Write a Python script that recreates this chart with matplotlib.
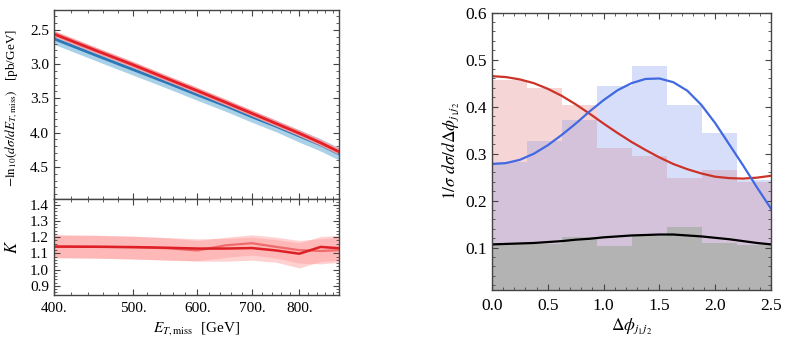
import numpy as np
import matplotlib
matplotlib.use("Agg")
import matplotlib.pyplot as plt
from matplotlib.ticker import FixedLocator, FuncFormatter, NullFormatter

plt.rcParams['font.family'] = ['Liberation Serif', 'DejaVu Serif']
plt.rcParams['mathtext.fontset'] = 'stix'

# ---- left panel data: E_T,miss spectrum ----
E = [400, 450, 500, 550, 600, 650, 700, 750, 800, 850, 895]
red_xsec = [2.56, 2.80, 3.01, 3.21, 3.39, 3.56, 3.72, 3.87, 4.01, 4.15, 4.28]
blue_xsec = [2.63, 2.87, 3.08, 3.27, 3.45, 3.61, 3.77, 3.91, 4.05, 4.18, 4.31]
blue_lo = [2.56, 2.80, 3.01, 3.20, 3.37, 3.53, 3.68, 3.82, 3.96, 4.09, 4.22]
blue_hi = [2.71, 2.95, 3.16, 3.35, 3.53, 3.69, 3.85, 3.99, 4.14, 4.27, 4.40]

# K factor
K_dark = [1.142, 1.141, 1.139, 1.135, 1.130, 1.130, 1.133, 1.118, 1.098, 1.140, 1.132]
K_light = [1.142, 1.141, 1.138, 1.132, 1.118, 1.150, 1.163, 1.140, 1.120, 1.115, 1.120]
bandA_hi = [1.212, 1.210, 1.205, 1.198, 1.190, 1.192, 1.200, 1.185, 1.165, 1.205, 1.210]
bandA_lo = [1.072, 1.070, 1.065, 1.058, 1.052, 1.052, 1.058, 1.045, 1.010, 1.050, 1.058]
bandB_hi = [1.215, 1.213, 1.207, 1.196, 1.180, 1.200, 1.215, 1.200, 1.180, 1.190, 1.200]
bandB_lo = [1.075, 1.072, 1.066, 1.060, 1.055, 1.075, 1.090, 1.070, 1.040, 1.035, 1.045]

# ---- right panel data: delta phi ----
bin_w = np.pi / 10
hist_red = [0.457, 0.439, 0.403, 0.313, 0.296, 0.248, 0.265, 0.240]
hist_blue = [0.282, 0.327, 0.372, 0.444, 0.486, 0.404, 0.343, 0.243]
hist_gray = [0.108, 0.108, 0.123, 0.104, 0.125, 0.145, 0.111, 0.106]

phi = np.arange(21) * 0.125
curve_red = [0.465, 0.463, 0.458, 0.450, 0.438, 0.423, 0.405, 0.385, 0.364, 0.344, 0.325,
             0.308, 0.292, 0.278, 0.267, 0.258, 0.251, 0.248, 0.247, 0.249, 0.253]
curve_blue = [0.278, 0.280, 0.287, 0.300, 0.318, 0.340, 0.364, 0.390, 0.414, 0.435, 0.450,
              0.459, 0.460, 0.452, 0.434, 0.404, 0.365, 0.320, 0.275, 0.228, 0.183]
curve_black = [0.107, 0.108, 0.109, 0.110, 0.112, 0.114, 0.117, 0.119, 0.122, 0.124, 0.126,
               0.127, 0.128, 0.128, 0.126, 0.124, 0.121, 0.118, 0.114, 0.110, 0.107]

frame = '#444444'


def style(ax):
    for s in ax.spines.values():
        s.set_color(frame)
        s.set_linewidth(1.0)
    ax.tick_params(which='both', direction='in', top=True, right=True, color=frame)
    ax.tick_params(which='major', length=4, width=0.8)
    ax.tick_params(which='minor', length=2, width=0.6)


fig = plt.figure(figsize=(7.89, 3.41), dpi=100)

# top left
ax1 = fig.add_axes([0.0684, 0.4164, 0.3612, 0.5543])
ax1.fill_between(E, blue_lo, blue_hi, color='#a9d1e8', lw=0)
ax1.plot(E, blue_xsec, color='#2b78b8', lw=2)
ax1.plot(E, red_xsec, color='#f4a0a0', lw=4, solid_capstyle='butt')
ax1.plot(E, red_xsec, color='#e3202a', lw=2)
ax1.set_xscale('log')
ax1.set_xlim(400, 895)
ax1.set_ylim(4.97, 2.21)
ax1.xaxis.set_major_locator(FixedLocator([400, 500, 600, 700, 800]))
ax1.xaxis.set_minor_locator(FixedLocator(np.arange(420, 895, 20)))
ax1.xaxis.set_major_formatter(NullFormatter())
ax1.xaxis.set_minor_formatter(NullFormatter())
ax1.yaxis.set_major_locator(FixedLocator([2.5, 3.0, 3.5, 4.0, 4.5]))
ax1.yaxis.set_minor_locator(FixedLocator(np.arange(2.3, 5.0, 0.1)))
ax1.yaxis.set_major_formatter(FuncFormatter(lambda v, p: f"{v:.1f}"))
ax1.tick_params(labelsize=11)
style(ax1)
ax1.set_ylabel(r"$-\mathrm{ln}_{10}(d\sigma/dE_{T,\mathrm{miss}})$   [pb/GeV]", fontsize=9.5)
ax1.yaxis.set_label_coords(-0.12, 0.48)

# bottom left
ax2 = fig.add_axes([0.0684, 0.1349, 0.3612, 0.2815])
ax2.fill_between(E, bandA_lo, bandA_hi, color='#ff9a9a', alpha=0.45, lw=0)
ax2.fill_between(E, bandB_lo, bandB_hi, color='#ff9a9a', alpha=0.45, lw=0)
ax2.plot(E, K_light, color='#ef6a6a', lw=1.6)
ax2.plot(E, K_dark, color='#dd1f26', lw=1.8)
ax2.set_xscale('log')
ax2.set_xlim(400, 895)
ax2.set_ylim(0.843, 1.436)
ax2.xaxis.set_major_locator(FixedLocator([400, 500, 600, 700, 800]))
ax2.xaxis.set_minor_locator(FixedLocator(np.arange(420, 895, 20)))
ax2.xaxis.set_major_formatter(FuncFormatter(lambda v, p: f"{v:.0f}."))
ax2.xaxis.set_minor_formatter(NullFormatter())
ax2.yaxis.set_major_locator(FixedLocator([0.9, 1.0, 1.1, 1.2, 1.3, 1.4]))
ax2.yaxis.set_minor_locator(FixedLocator(np.arange(0.86, 1.44, 0.02)))
ax2.yaxis.set_major_formatter(FuncFormatter(lambda v, p: f"{v:.1f}"))
ax2.tick_params(labelsize=11)
ax2.tick_params(axis='x', pad=5)
style(ax2)
ax2.set_ylabel(r"$K$", fontsize=12)
ax2.yaxis.set_label_coords(-0.115, 0.5)
ax2.set_xlabel(r"$E_{T,\mathrm{miss}}$  [GeV]", fontsize=11)

# right panel
ax3 = fig.add_axes([0.6236, 0.1496, 0.3536, 0.8132])
left = np.arange(len(hist_red)) * bin_w
ax3.bar(left, hist_red, width=bin_w, align='edge', color='#f5d5d5', lw=0)
ax3.bar(left, hist_blue, width=bin_w, align='edge', color='#d6defa', lw=0)
ax3.bar(left, np.minimum(hist_red, hist_blue), width=bin_w, align='edge', color='#d4c2da', lw=0)
ax3.bar(left, hist_gray, width=bin_w, align='edge', color='#b3b3b3', lw=0)
ax3.plot(phi, curve_red, color='#cc3328', lw=1.6)
ax3.plot(phi, curve_blue, color='#4169e1', lw=1.6)
ax3.plot(phi, curve_black, color='black', lw=1.6)
ax3.set_xlim(0, 2.5)
ax3.set_ylim(0.01, 0.6)
ax3.xaxis.set_major_locator(FixedLocator([0.0, 0.5, 1.0, 1.5, 2.0, 2.5]))
ax3.xaxis.set_minor_locator(FixedLocator(np.arange(0.1, 2.5, 0.1)))
ax3.xaxis.set_major_formatter(FuncFormatter(lambda v, p: f"{v:.1f}"))
ax3.yaxis.set_major_locator(FixedLocator([0.1, 0.2, 0.3, 0.4, 0.5, 0.6]))
ax3.yaxis.set_minor_locator(FixedLocator(np.arange(0.02, 0.6, 0.02)))
ax3.yaxis.set_major_formatter(FuncFormatter(lambda v, p: f"{v:.1f}"))
ax3.tick_params(labelsize=12.5)
ax3.tick_params(axis='x', pad=6)
style(ax3)
ax3.set_ylabel(r"$1/\sigma\ d\sigma/d\Delta\phi_{j_1 j_2}$", fontsize=12.5)
ax3.yaxis.set_label_coords(-0.11, 0.5)
ax3.set_xlabel(r"$\Delta\phi_{j_1 j_2}$", fontsize=12.5)
ax3.xaxis.set_label_coords(0.5, -0.095)

fig.savefig("out.png", dpi=100)
